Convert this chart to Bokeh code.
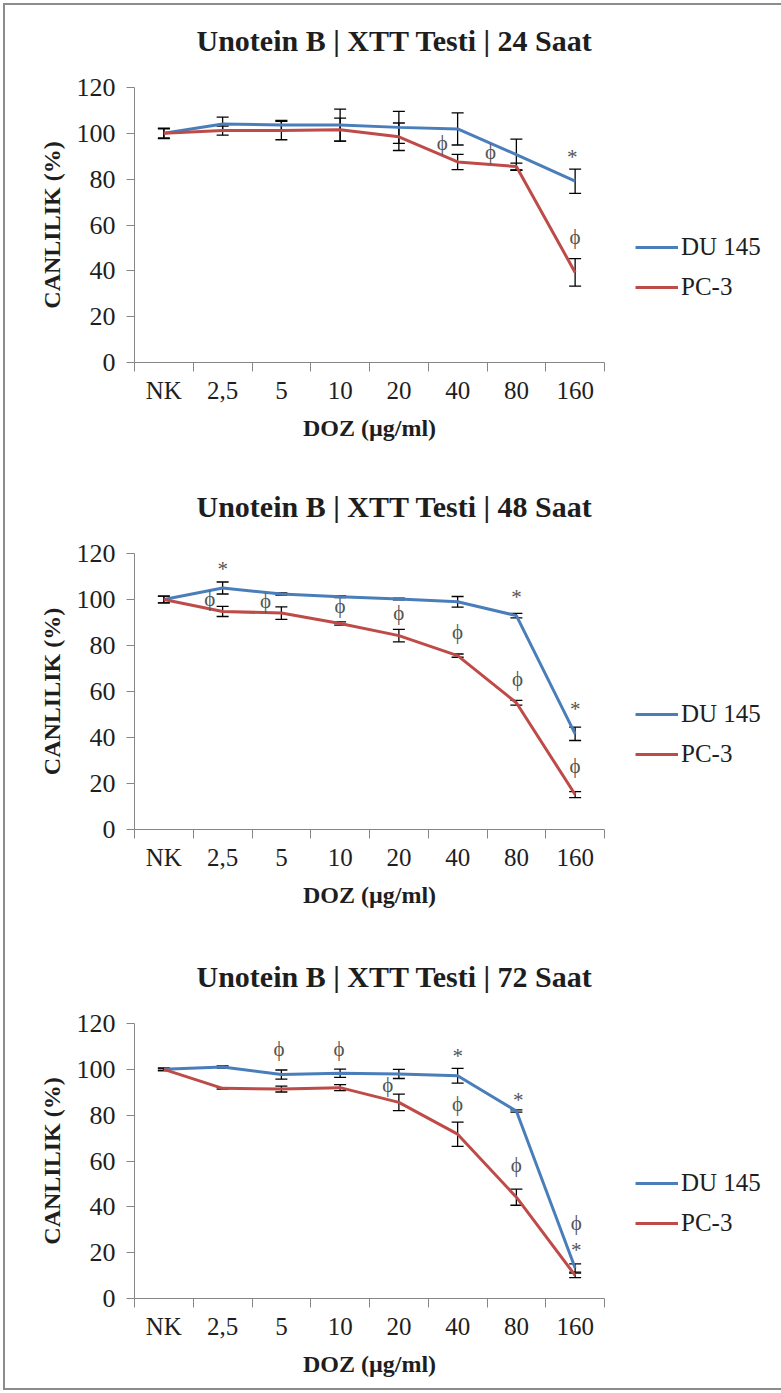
from bokeh.plotting import figure
from bokeh.models import (Range1d, FixedTicker, ColumnDataSource, Whisker, TeeHead,
                          Legend, LegendItem, Title)
from bokeh.layouts import column
from bokeh.core.properties import value
from bokeh.embed import file_html
from bokeh.resources import INLINE

FONT = "Liberation Serif"

categories = ["NK", "2,5", "5", "10", "20", "40", "80", "160"]
y_ticks = [0, 20, 40, 60, 80, 100, 120]
series_names = ["DU 145", "PC-3"]
titles = ["Unotein B | XTT Testi | 24 Saat",
          "Unotein B | XTT Testi | 48 Saat",
          "Unotein B | XTT Testi | 72 Saat"]
x_label = "DOZ (µg/ml)"
y_label = "CANLILIK (%)"

# 24 h
du_24 = [100, 104.1, 103.6, 103.6, 102.6, 101.9, 90.7, 79.1]
du_24_err = [2.3, 3.0, 2.0, 7.0, 7.0, 7.0, 6.8, 5.3]
pc_24 = [100, 101.2, 101.2, 101.6, 98.5, 87.5, 85.5, 39.3]
pc_24_err = [2.0, 2.0, 4.0, 5.0, 6.0, 3.3, 1.5, 6.0]
ann_24_cat = ["40", "80", "160", "160"]
ann_24_shift = [-0.26, -0.44, -0.05, 0.0]
ann_24_y = [95.9, 91.7, 89.5, 54.6]
ann_24_sym = ["ϕ", "ϕ", "*", "ϕ"]

# 48 h
du_48 = [100, 105.0, 102.4, 101.2, 100.2, 99.0, 93.0, 41.6]
du_48_err = [1.5, 2.6, 0.5, 0.4, 0.4, 2.3, 1.0, 2.9]
pc_48 = [100, 94.8, 94.1, 89.6, 84.3, 75.6, 55.1, 15.2]
pc_48_err = [1.5, 2.2, 2.7, 0.7, 2.7, 0.7, 1.0, 1.3]
ann_48_cat = ["2,5", "2,5", "5", "10", "20", "40", "80", "80", "160", "160"]
ann_48_shift = [0.0, -0.22, -0.27, 0.0, 0.0, 0.0, 0.0, 0.02, 0.0, 0.0]
ann_48_y = [113.3, 100.3, 99.3, 97.1, 94.3, 85.8, 101.3, 65.5, 52.5, 27.8]
ann_48_sym = ["*", "ϕ", "ϕ", "ϕ", "ϕ", "ϕ", "*", "ϕ", "*", "ϕ"]

# 72 h
du_72 = [100, 101.0, 97.7, 98.3, 98.0, 97.2, 81.8, 13.3]
du_72_err = [0.5, 0.5, 2.0, 1.8, 2.0, 3.2, 0.5, 1.8]
pc_72 = [100, 91.7, 91.4, 92.0, 85.6, 71.7, 44.2, 10.1]
pc_72_err = [0.5, 0.3, 1.3, 1.3, 3.6, 5.3, 3.5, 1.0]
ann_72_cat = ["5", "10", "20", "40", "40", "80", "80", "160", "160"]
ann_72_shift = [-0.04, -0.02, -0.19, 0.0, 0.0, 0.03, 0.0, 0.02, 0.02]
ann_72_y = [109.0, 109.0, 93.0, 105.7, 84.7, 86.5, 58.1, 33.1, 21.0]
ann_72_sym = ["ϕ", "ϕ", "ϕ", "*", "ϕ", "*", "ϕ", "ϕ", "*"]

colors = ["#4a7ebb", "#be4b48"]
AXIS_COLOR = "#868686"
TEXT_COLOR = "#1e1e1e"


def make_panel(title, du, du_err, pc, pc_err, a_cat, a_shift, a_y, a_sym,
               top, frame_h, bottom):
    n = len(categories)
    xs = [2 * i + 1 for i in range(n)]
    p = figure(frame_width=470, frame_height=frame_h, title=None,
               min_border_left=129, min_border_right=172,
               min_border_top=top, min_border_bottom=bottom,
               x_range=Range1d(0, 2 * n), y_range=Range1d(0, 120),
               output_backend="svg", toolbar_location=None,
               background_fill_color="white", border_fill_color="white")
    p.outline_line_color = None
    p.grid.visible = False

    # blank spacer between the frame and the title
    p.add_layout(Title(text=" ", text_font_size="22px", standoff=4), "above")
    p.add_layout(Title(text=title, text_font=FONT, text_font_style="bold",
                       text_font_size="30px", text_color=TEXT_COLOR,
                       align="left", offset=62, standoff=0), "above")

    # x axis
    xa = p.xaxis[0]
    xa.ticker = FixedTicker(ticks=xs, minor_ticks=list(range(0, 2 * n + 1, 2)))
    xa.major_label_overrides = {x: c for x, c in zip(xs, categories)}
    xa.major_tick_out = 0
    xa.major_tick_in = 0
    xa.minor_tick_out = 9
    xa.minor_tick_in = 0
    xa.minor_tick_line_color = AXIS_COLOR
    xa.axis_line_color = AXIS_COLOR
    xa.major_label_standoff = 5
    xa.major_label_text_font = FONT
    xa.major_label_text_font_size = "25px"
    xa.major_label_text_color = TEXT_COLOR
    xa.axis_label = x_label
    xa.axis_label_text_font = FONT
    xa.axis_label_text_font_style = "bold"
    xa.axis_label_text_font_size = "24px"
    xa.axis_label_text_color = TEXT_COLOR
    xa.axis_label_standoff = 8

    # y axis
    ya = p.yaxis[0]
    ya.ticker = FixedTicker(ticks=y_ticks, minor_ticks=[])
    ya.major_tick_out = 8
    ya.major_tick_in = 0
    ya.major_tick_line_color = AXIS_COLOR
    ya.axis_line_color = AXIS_COLOR
    ya.major_label_standoff = 11
    ya.major_label_text_font = FONT
    ya.major_label_text_font_size = "26px"
    ya.major_label_text_color = TEXT_COLOR
    ya.axis_label = y_label
    ya.axis_label_text_font = FONT
    ya.axis_label_text_font_style = "bold"
    ya.axis_label_text_font_size = "24px"
    ya.axis_label_text_color = TEXT_COLOR
    ya.axis_label_standoff = 9

    renderers = []
    for vals, errs, col in ((du, du_err, colors[0]), (pc, pc_err, colors[1])):
        src = ColumnDataSource(dict(
            x=xs, y=vals,
            lo=[v - e for v, e in zip(vals, errs)],
            hi=[v + e for v, e in zip(vals, errs)]))
        r = p.line("x", "y", source=src, line_color=col, line_width=3)
        renderers.append(r)
        w = Whisker(base="x", lower="lo", upper="hi", source=src,
                    line_color="black", line_width=1.3,
                    upper_head=TeeHead(size=12, line_color="black", line_width=1.3),
                    lower_head=TeeHead(size=12, line_color="black", line_width=1.3))
        p.add_layout(w)

    asrc = ColumnDataSource(dict(
        x=[2 * categories.index(c) + 1 + 2 * s for c, s in zip(a_cat, a_shift)],
        y=a_y, t=a_sym))
    p.text("x", "y", text="t", source=asrc, text_font=value(FONT),
           text_font_size="21px", text_align="center", text_baseline="middle",
           text_color="#555555")

    legend = Legend(items=[LegendItem(label=series_names[0], renderers=[renderers[0]]),
                           LegendItem(label=series_names[1], renderers=[renderers[1]])],
                    location=(31, 55), orientation="vertical",
                    glyph_width=43, glyph_height=40, label_height=40,
                    label_standoff=3, spacing=0, padding=0, margin=0,
                    label_text_font=FONT, label_text_font_size="25px",
                    label_text_color=TEXT_COLOR,
                    border_line_alpha=0, background_fill_alpha=0)
    p.add_layout(legend, "right")
    return p


p1 = make_panel(titles[0], du_24, du_24_err, pc_24, pc_24_err,
                ann_24_cat, ann_24_shift, ann_24_y, ann_24_sym, 82, 275, 104)
p2 = make_panel(titles[1], du_48, du_48_err, pc_48, pc_48_err,
                ann_48_cat, ann_48_shift, ann_48_y, ann_48_sym, 87, 276, 107)
p3 = make_panel(titles[2], du_72, du_72_err, pc_72, pc_72_err,
                ann_72_cat, ann_72_shift, ann_72_y, ann_72_sym, 87, 275, 90)

layout = column(p1, p2, p3, styles={"border": "2px solid #8c8c8c"}, margin=(3, 3, 0, 3))

open("out.html", "w").write(file_html(layout, INLINE))
